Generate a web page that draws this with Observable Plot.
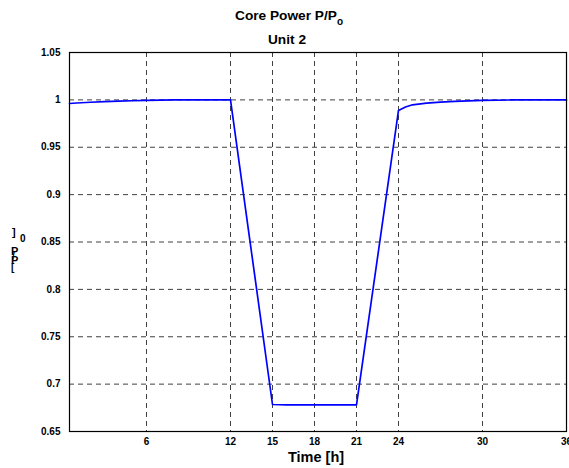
<!DOCTYPE html>
<html>
<head>
<meta charset="utf-8">
<script src="https://cdn.jsdelivr.net/npm/d3@7"></script>
<script src="https://cdn.jsdelivr.net/npm/@observablehq/plot@0.6"></script>
<style>
  html, body { margin: 0; padding: 0; background: #fff; }
  svg { font-family: "Liberation Sans", Arial, sans-serif; }
</style>
</head>
<body>
<div id="chart"></div>
<script>
// Time [h]
const time = [0.5, 1, 2, 3, 4, 5, 6, 7, 8, 10, 12, 15, 16, 18, 20, 21, 24, 24.5, 25, 26, 27, 28, 29, 30, 32, 34, 36];
// P/Po
const power = [0.9962, 0.9967, 0.9975, 0.9982, 0.9987, 0.9991, 0.9994, 0.9997, 0.9999, 1.0, 1.0, 0.6785, 0.678, 0.678, 0.678, 0.678, 0.9888, 0.9925, 0.9948, 0.9966, 0.9976, 0.9984, 0.9990, 0.9995, 0.9999, 1.0, 1.0];
const xTicks = [6, 12, 15, 18, 21, 24, 30, 36];
const yTicks = [0.65, 0.7, 0.75, 0.8, 0.85, 0.9, 0.95, 1, 1.05];

const data = time.map((t, i) => ({t, p: power[i]}));

const W = 569, H = 468;
const chart = Plot.plot({
  width: W,
  height: H,
  marginTop: 52,
  marginLeft: 69,
  marginRight: 3,
  marginBottom: 37,
  style: {fontFamily: '"Liberation Sans", Arial, sans-serif', background: "#fff", overflow: "visible"},
  x: {domain: [0.5, 36], ticks: xTicks},
  y: {domain: [0.65, 1.05], ticks: yTicks},
  marks: [
    Plot.gridX(xTicks.filter(d => d < 36), {stroke: "#000", strokeOpacity: 0.75, strokeDasharray: "5,4"}),
    Plot.gridY(yTicks.filter(d => d > 0.65 && d < 1.05), {stroke: "#000", strokeOpacity: 0.75, strokeDasharray: "5,4"}),
    Plot.axisX(xTicks, {tickSize: 0, tickPadding: 6, fontSize: 10, fontWeight: "bold", label: null}),
    Plot.axisY(yTicks, {tickSize: 0, tickPadding: 9, fontSize: 10, fontWeight: "bold", label: null,
      tickFormat: d => String(+d.toFixed(2))}),
    Plot.line(data, {x: "t", y: "p", stroke: "#0000ff", strokeWidth: 1.7}),
    Plot.frame({stroke: "#000", strokeWidth: 1.2})
  ]
});

const svg = d3.select(chart);
const add = (x, y, txt, size, anchor = "start") =>
  svg.append("text").attr("x", x).attr("y", y).attr("font-size", size)
    .attr("font-weight", "bold").attr("text-anchor", anchor).attr("fill", "#000").text(txt);

// Title
const t1 = add(235, 20, "Core Power P/P", 13.7);
t1.append("tspan").attr("dy", 5).attr("font-size", 10).text("o");
add(287, 44, "Unit 2", 13.7, "middle");
// X label
add(316, 462, "Time [h]", 14.5, "middle");
// Y label (stacked characters as in the original)
add(12, 236, "]", 11);
add(20, 242, "0", 10);
add(11, 255, "P", 11);
add(12, 260, "/", 10);
add(11, 264, "P", 11);
add(11, 271, "[", 10);

document.getElementById("chart").appendChild(chart);
</script>
</body>
</html>
